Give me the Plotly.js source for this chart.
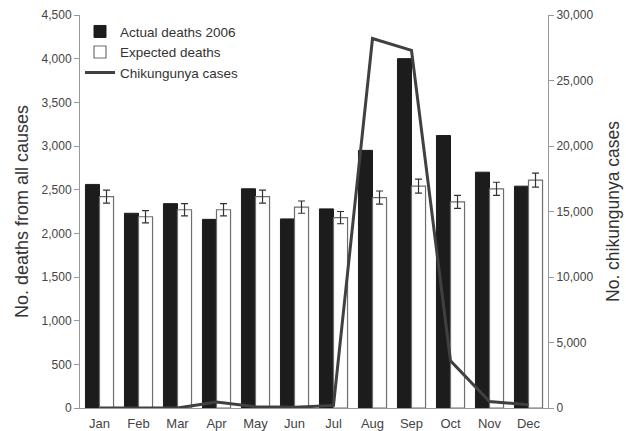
<!DOCTYPE html>
<html><head><meta charset="utf-8">
<script src="https://cdn.plot.ly/plotly-3.0.1.min.js"></script>
<style>html,body{margin:0;padding:0;background:#fff}#chart{width:626px;height:431px}</style>
</head><body><div id="chart"></div>
<script>
var months = ["Jan","Feb","Mar","Apr","May","Jun","Jul","Aug","Sep","Oct","Nov","Dec"];
var actualDeaths = [2560,2230,2340,2160,2510,2165,2280,2950,4000,3120,2700,2540];
var expectedDeaths = [2420,2190,2270,2270,2420,2300,2180,2410,2540,2360,2510,2610];
var expectedError = [75,70,70,70,75,70,70,75,80,75,75,80];
var chikCases = [0,0,0,450,100,50,200,28200,27300,3600,500,250];
var leftTicks = [0,500,1000,1500,2000,2500,3000,3500,4000,4500];
var rightTicks = [0,5000,10000,15000,20000,25000,30000];

var font = "Liberation Sans, Arial, sans-serif";
var traces = [
  {type:"bar", x:months, y:actualDeaths, name:"Actual deaths 2006",
   marker:{color:"#1c1c1c", line:{color:"#1c1c1c", width:1}}},
  {type:"bar", x:months, y:expectedDeaths, name:"Expected deaths",
   marker:{color:"#ffffff", line:{color:"#6e6e6e", width:1.2}},
   error_y:{type:"data", array:expectedError, visible:true, color:"#333", thickness:1.2, width:3.5}},
  {type:"scatter", mode:"lines", x:months, y:chikCases, yaxis:"y2", name:"Chikungunya cases",
   line:{color:"#404040", width:3}}
];
var layout = {
  width:626, height:431,
  margin:{l:80, r:78, t:15, b:23},
  paper_bgcolor:"#fff", plot_bgcolor:"#fff",
  font:{family:font, color:"#444", size:12},
  barmode:"group", bargap:0.28, bargroupgap:0,
  showlegend:true,
  legend:{x:0.0, y:0.997, xanchor:"left", yanchor:"top", bgcolor:"rgba(0,0,0,0)",
          font:{family:font, size:13.5, color:"#333"}, tracegroupgap:0, itemwidth:30},
  xaxis:{showline:true, linecolor:"#999", linewidth:1, ticks:"", showgrid:false, ticklabelstandoff:3,
         tickfont:{family:font, size:13, color:"#444"}, fixedrange:true},
  yaxis:{range:[0,4500], tickvals:leftTicks, tickformat:",d", showgrid:false, zeroline:false,
         showline:true, linecolor:"#999", ticks:"outside", ticklen:5, tickcolor:"#999",
         tickfont:{family:font, size:12, color:"#444"},
         title:{text:"No. deaths from all causes", font:{family:font, size:18, color:"#333"}, standoff:8}},
  yaxis2:{range:[0,30000], tickvals:rightTicks, tickformat:",d", overlaying:"y", side:"right",
         showgrid:false, zeroline:false, showline:true, linecolor:"#999", ticks:"outside", ticklen:5, tickcolor:"#999",
         tickfont:{family:font, size:12, color:"#444"},
         title:{text:"No. chikungunya cases", font:{family:font, size:17.5, color:"#333"}, standoff:14}}
};
Plotly.newPlot("chart", traces, layout, {displayModeBar:false, staticPlot:true});
</script></body></html>
